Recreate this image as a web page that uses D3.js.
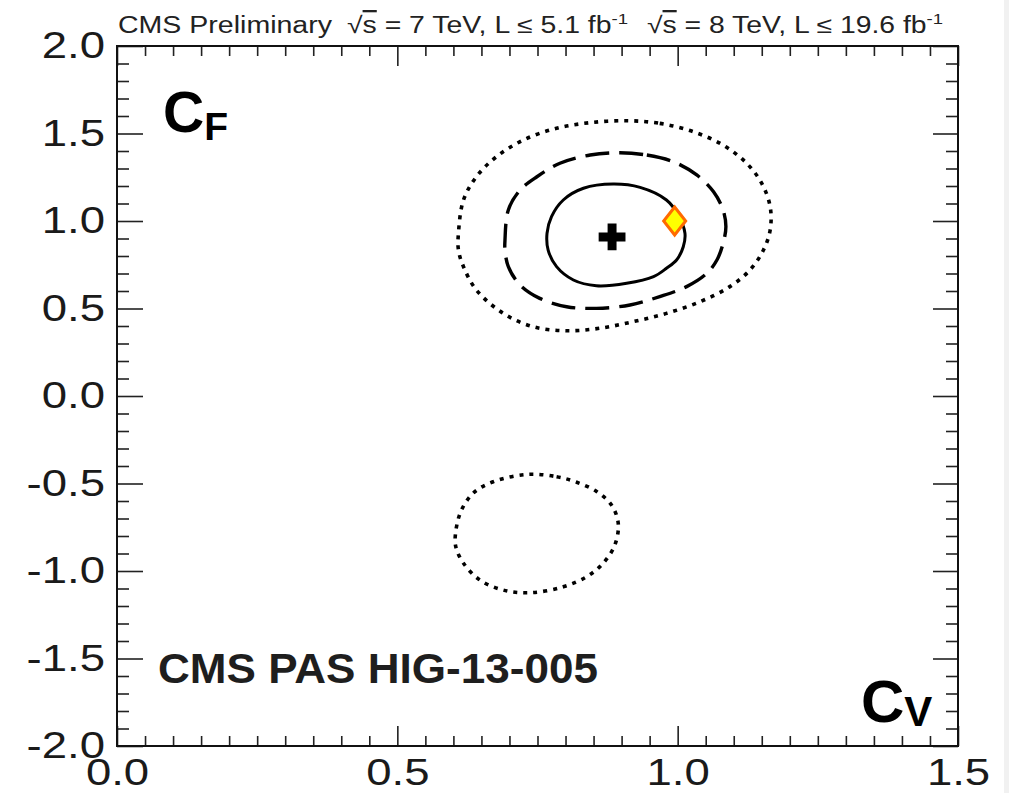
<!DOCTYPE html>
<html>
<head>
<meta charset="utf-8">
<script src="https://cdn.jsdelivr.net/npm/d3@7"></script>
<style>
  body { margin: 0; background: #fff; }
  svg { display: block; font-family: "Liberation Sans", Arial, Helvetica, sans-serif; }
</style>
</head>
<body>
<script>
// axis ranges and ticks
var cvDomain = [0.0, 1.5];
var cfDomain = [-2.0, 2.0];
var cvMajor = [0.0, 0.5, 1.0, 1.5];
var cfMajor = [-2.0, -1.5, -1.0, -0.5, 0.0, 0.5, 1.0, 1.5, 2.0];

// likelihood contours (cV, cF)
var contour68 = [
  [0.885, 1.211], [0.933, 1.192], [0.980, 1.120], [1.001, 1.034], [1.013, 0.930],
  [1.010, 0.853], [0.998, 0.777], [0.980, 0.730], [0.957, 0.682], [0.909, 0.644],
  [0.855, 0.630], [0.814, 0.663], [0.784, 0.739], [0.769, 0.834], [0.767, 0.930],
  [0.775, 1.025], [0.796, 1.120], [0.832, 1.187]
];
var contour95 = [
  [0.897, 1.390], [0.945, 1.377], [0.992, 1.339], [1.034, 1.263], [1.064, 1.167],
  [1.081, 1.063], [1.086, 0.968], [1.081, 0.872], [1.070, 0.777], [1.052, 0.701],
  [1.016, 0.625], [0.968, 0.568], [0.915, 0.520], [0.855, 0.501], [0.802, 0.510],
  [0.754, 0.558], [0.719, 0.634], [0.698, 0.739], [0.692, 0.834], [0.692, 0.891],
  [0.698, 1.063], [0.719, 1.177], [0.749, 1.253], [0.790, 1.330], [0.844, 1.377]
];
var contour99Upper = [
  [0.909, 1.573], [0.968, 1.558], [1.028, 1.510], [1.081, 1.434], [1.123, 1.330],
  [1.150, 1.215], [1.165, 1.082], [1.165, 0.949], [1.153, 0.834], [1.129, 0.720],
  [1.093, 0.625], [1.040, 0.539], [0.980, 0.472], [0.921, 0.425], [0.861, 0.387],
  [0.802, 0.373], [0.742, 0.396], [0.689, 0.472], [0.641, 0.606], [0.618, 0.739],
  [0.609, 0.834], [0.609, 0.930], [0.618, 1.120], [0.641, 1.253], [0.677, 1.368],
  [0.725, 1.463], [0.784, 1.530], [0.844, 1.562]
];
var contour99Lower = [
  [0.731, -0.448], [0.784, -0.461], [0.820, -0.493], [0.856, -0.547], [0.882, -0.623],
  [0.894, -0.728], [0.888, -0.851], [0.867, -0.956], [0.838, -1.032], [0.796, -1.090],
  [0.737, -1.124], [0.689, -1.109], [0.647, -1.051], [0.618, -0.956], [0.606, -0.880],
  [0.603, -0.823], [0.612, -0.670], [0.635, -0.556], [0.671, -0.490]
];
var bestFit = [0.883, 0.909];
var smPoint = [1.0, 1.0];

var width = 1009, height = 793;
var frame = {left: 117, top: 46, right: 958, bottom: 746};

var svg = d3.select('body').append('svg')
  .attr('width', width)
  .attr('height', height);

// thin grey strip at the right edge of the picture
svg.append('rect').attr('x', 1004).attr('y', 0).attr('width', 5).attr('height', height).attr('fill', '#f1f1f1');

var x = d3.scaleLinear().domain(cvDomain).range([frame.left, frame.right]);
var y = d3.scaleLinear().domain(cfDomain).range([frame.bottom, frame.top]);

var cvMinor = d3.range(0, 31).filter(function (i) { return i % 10 !== 0; }).map(function (i) { return i * 0.05; });
var cfMinor = d3.range(-20, 21).filter(function (i) { return i % 5 !== 0; }).map(function (i) { return i * 0.1; });

var labelFont = '"Liberation Sans", Arial, Helvetica, sans-serif';
var fmt = function (d) { return d.toFixed(1); };   // plain hyphen for negatives

function stretch(sel, k) {
  sel.each(function () {
    var w = this.getComputedTextLength();
    d3.select(this).attr('textLength', w * k).attr('lengthAdjust', 'spacingAndGlyphs');
  });
}

function addAxis(axis, tx, ty, withLabels) {
  var g = svg.append('g').attr('transform', 'translate(' + tx + ',' + ty + ')').call(axis);
  g.select('.domain').remove();
  g.selectAll('.tick line').attr('stroke', '#222').attr('stroke-width', 1.6);
  if (withLabels) {
    g.selectAll('.tick text')
      .style('font-size', '37px')
      .style('font-family', labelFont)
      .attr('fill', '#1a1a1a')
      .call(stretch, 1.23);
  } else {
    g.selectAll('.tick text').remove();
  }
  return g;
}

// left axis (ticks inside)
addAxis(d3.axisLeft(y).tickValues(cfMinor).tickSize(-12).tickFormat(''), frame.left, 0, false);
addAxis(d3.axisLeft(y).tickValues(cfMajor).tickSize(-26).tickPadding(12).tickFormat(fmt), frame.left, 0, true);
// right axis
addAxis(d3.axisRight(y).tickValues(cfMinor).tickSize(-12).tickFormat(''), frame.right, 0, false);
addAxis(d3.axisRight(y).tickValues(cfMajor).tickSize(-25).tickFormat(''), frame.right, 0, false);
// bottom axis
addAxis(d3.axisBottom(x).tickValues(cvMinor).tickSize(-10).tickFormat(''), 0, frame.bottom, false);
addAxis(d3.axisBottom(x).tickValues(cvMajor).tickSize(-20).tickPadding(13).tickFormat(fmt), 0, frame.bottom, true);
// top axis
addAxis(d3.axisTop(x).tickValues(cvMinor).tickSize(-10).tickFormat(''), 0, frame.top, false);
addAxis(d3.axisTop(x).tickValues(cvMajor).tickSize(-20).tickFormat(''), 0, frame.top, false);

// frame
svg.append('rect')
  .attr('x', frame.left).attr('y', frame.top)
  .attr('width', frame.right - frame.left).attr('height', frame.bottom - frame.top)
  .attr('fill', 'none').attr('stroke', '#111').attr('stroke-width', 2);

// contours
var line = d3.line()
  .x(function (d) { return x(d[0]); })
  .y(function (d) { return y(d[1]); })
  .curve(d3.curveCatmullRomClosed.alpha(0.5));

var contours = [
  {pts: contour99Upper, dash: '4 6', w: 3.6},
  {pts: contour99Lower, dash: '4 6', w: 3.6},
  {pts: contour95, dash: '24 10', w: 3.4},
  {pts: contour68, dash: null, w: 3}
];

svg.selectAll('path.contour')
  .data(contours)
  .enter()
  .append('path')
  .attr('class', 'contour')
  .attr('d', function (d) { return line(d.pts); })
  .attr('fill', 'none')
  .attr('stroke', '#000')
  .attr('stroke-width', function (d) { return d.w; })
  .attr('stroke-dasharray', function (d) { return d.dash; });

// best fit cross
svg.append('path')
  .attr('d', d3.symbol(d3.symbolCross, 400)())
  .attr('transform', 'translate(' + x(bestFit[0]) + ',' + y(bestFit[1]) + ')')
  .attr('fill', '#000');

// SM expectation diamond
svg.append('path')
  .attr('d', 'M0,-14L11,0L0,14L-11,0Z')
  .attr('transform', 'translate(' + (x(smPoint[0]) - 3) + ',' + y(smPoint[1]) + ')')
  .attr('fill', '#ffff00')
  .attr('stroke', '#ff6a00')
  .attr('stroke-width', 3)
  .attr('stroke-linejoin', 'miter');

// header
function header(xPos, len, parts) {
  var t = svg.append('text')
    .attr('x', xPos).attr('y', 33)
    .style('font-size', '23px')
    .attr('fill', '#222');
  parts.forEach(function (p) {
    var s = t.append('tspan').text(p.text);
    if (p.sup) s.style('font-size', '15px').attr('dy', -9);
    if (p.over) s.style('text-decoration', 'overline');
  });
  t.attr('textLength', len).attr('lengthAdjust', 'spacingAndGlyphs');
}
header(118, 214, [{text: 'CMS Preliminary'}]);
header(347, 281, [{text: '\u221A'}, {text: 's', over: true}, {text: ' = 7 TeV, L \u2264 5.1 fb'}, {text: '-1', sup: true}]);
header(647, 296, [{text: '\u221A'}, {text: 's', over: true}, {text: ' = 8 TeV, L \u2264 19.6 fb'}, {text: '-1', sup: true}]);

// axis titles
var cf = svg.append('text').attr('x', 163).attr('y', 132).attr('font-weight', 'bold').attr('fill', '#000');
cf.append('tspan').style('font-size', '57px').text('C');
cf.append('tspan').style('font-size', '39px').attr('dy', 8).text('F');

var cv = svg.append('text').attr('x', 861).attr('y', 722).attr('font-weight', 'bold').attr('fill', '#000');
cv.append('tspan').style('font-size', '60px').text('C');
cv.append('tspan').style('font-size', '42px').attr('dy', 4).text('V');

svg.append('text')
  .attr('x', 158).attr('y', 683)
  .attr('font-weight', 'bold')
  .style('font-size', '42px')
  .attr('fill', '#1e1e1e')
  .attr('textLength', 440).attr('lengthAdjust', 'spacingAndGlyphs')
  .text('CMS PAS HIG-13-005');
</script>
</body>
</html>
